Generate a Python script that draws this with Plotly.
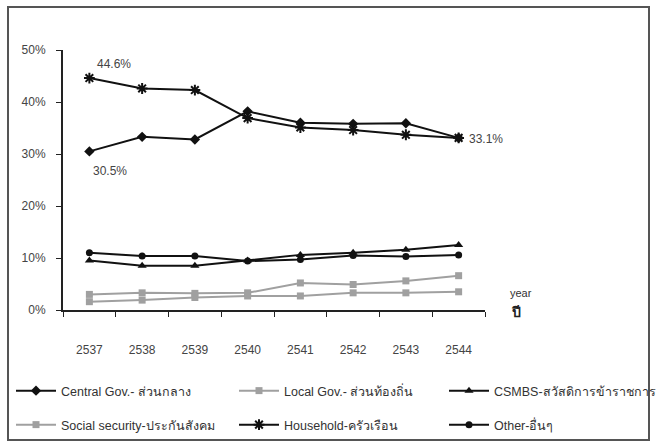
import plotly.graph_objects as go

years = ["2537", "2538", "2539", "2540", "2541", "2542", "2543", "2544"]
central_gov = [30.5, 33.3, 32.8, 38.2, 36.0, 35.8, 35.9, 33.1]
local_gov = [1.6, 1.9, 2.4, 2.7, 2.7, 3.3, 3.3, 3.5]
csmbs = [9.5, 8.5, 8.5, 9.5, 10.6, 11.0, 11.6, 12.5]
social_security = [3.0, 3.3, 3.2, 3.3, 5.2, 4.9, 5.6, 6.6]
household = [44.6, 42.6, 42.3, 36.9, 35.1, 34.6, 33.7, 33.1]
other = [11.0, 10.4, 10.4, 9.4, 9.7, 10.5, 10.3, 10.6]

names = ["Central Gov.- ส่วนกลาง", "Local Gov.- ส่วนท้องถิ่น", "CSMBS-สวัสดิการข้าราชการ",
         "Social security-ประกันสังคม", "Household-ครัวเรือน", "Other-อื่นๆ"]

W, H = 660, 447
def px(x):
    return x / W
def py(y):
    return 1 - y / H

FONT = "Liberation Sans, Arial, Noto Sans, sans-serif"
BLACK = "#111111"
GRAY = "#a0a0a0"

series = [
    (names[0], central_gov, BLACK, dict(symbol="diamond", size=8)),
    (names[1], local_gov, GRAY, dict(symbol="square", size=7)),
    (names[2], csmbs, BLACK, dict(symbol="triangle-up", size=8)),
    (names[3], social_security, GRAY, dict(symbol="square", size=7)),
    (names[4], household, BLACK, dict(symbol="asterisk-open", size=9, line=dict(width=2, color=BLACK))),
    (names[5], other, BLACK, dict(symbol="circle", size=7)),
]
# legend slots: (left x px, center y px)
legend_pos = [(11, 391), (234, 391), (444, 391), (11, 425), (234, 425), (444, 425)]

fig = go.Figure()
legend_layout = {}
for i, (name, vals, col, mk) in enumerate(series):
    m = dict(color=col)
    m.update(mk)
    lid = "legend" if i == 0 else f"legend{i + 1}"
    fig.add_trace(go.Scatter(
        x=years, y=[v / 100 for v in vals], name=name, mode="lines+markers",
        line=dict(color=col, width=2), marker=m, legend=lid,
    ))
    lx, ly = legend_pos[i]
    legend_layout[lid] = dict(x=px(lx), y=py(ly), xanchor="left", yanchor="middle",
                              font=dict(size=12.5, color="#333333"), bgcolor="rgba(0,0,0,0)",
                              itemwidth=40)

fig.update_layout(
    width=W, height=H,
    margin=dict(l=0, r=0, t=0, b=0, autoexpand=False),
    paper_bgcolor="white", plot_bgcolor="white",
    font=dict(family=FONT, size=12, color="#333333"),
    showlegend=True,
    xaxis=dict(domain=[px(63), px(485)], type="category", range=[-0.5, 7.5],
               showline=True, linecolor="#222222", linewidth=2, showgrid=False,
               ticks="outside", ticklen=5, tickcolor="#222222", tickwidth=1,
               tickson="boundaries", ticklabelstandoff=28,
               tickfont=dict(size=12, color="#444444"), zeroline=False),
    yaxis=dict(domain=[py(310), py(50)], range=[0, 0.5], tickformat=".0%",
               tickvals=[0, 0.1, 0.2, 0.3, 0.4, 0.5],
               showline=True, linecolor="#222222", linewidth=2, showgrid=False,
               ticks="outside", ticklen=5, tickcolor="#222222", ticklabelstandoff=8,
               tickfont=dict(size=12, color="#444444"), zeroline=False),
    **legend_layout,
)

anns = [
    (0, household[0], "44.6%", 6, -14),
    (0, central_gov[0], "30.5%", 2, 20),
    (7, household[-1], "33.1%", 8, 1),
]
for xv, yv, txt, dx, dy in anns:
    fig.add_annotation(x=xv, y=yv / 100, xref="x", yref="y", text=txt, showarrow=False,
                       xanchor="left", xshift=dx, yshift=-dy,
                       font=dict(size=12, color="#444444"))

fig.add_annotation(x=px(508), y=py(293), xref="paper", yref="paper", text="year",
                   showarrow=False, xanchor="left", font=dict(size=11, color="#333333"))
fig.add_annotation(x=px(509), y=py(322), xref="paper", yref="paper", text="<b>ปี</b>",
                   showarrow=False, xanchor="left", font=dict(size=14, color="#222222"))

fig.add_shape(type="rect", xref="paper", yref="paper", x0=px(8), x1=px(649), y0=py(440), y1=py(7),
              line=dict(color="#555555", width=2))

fig.write_html("out.html", config={"displayModeBar": False},
               post_script="document.body.style.margin='0px';")
